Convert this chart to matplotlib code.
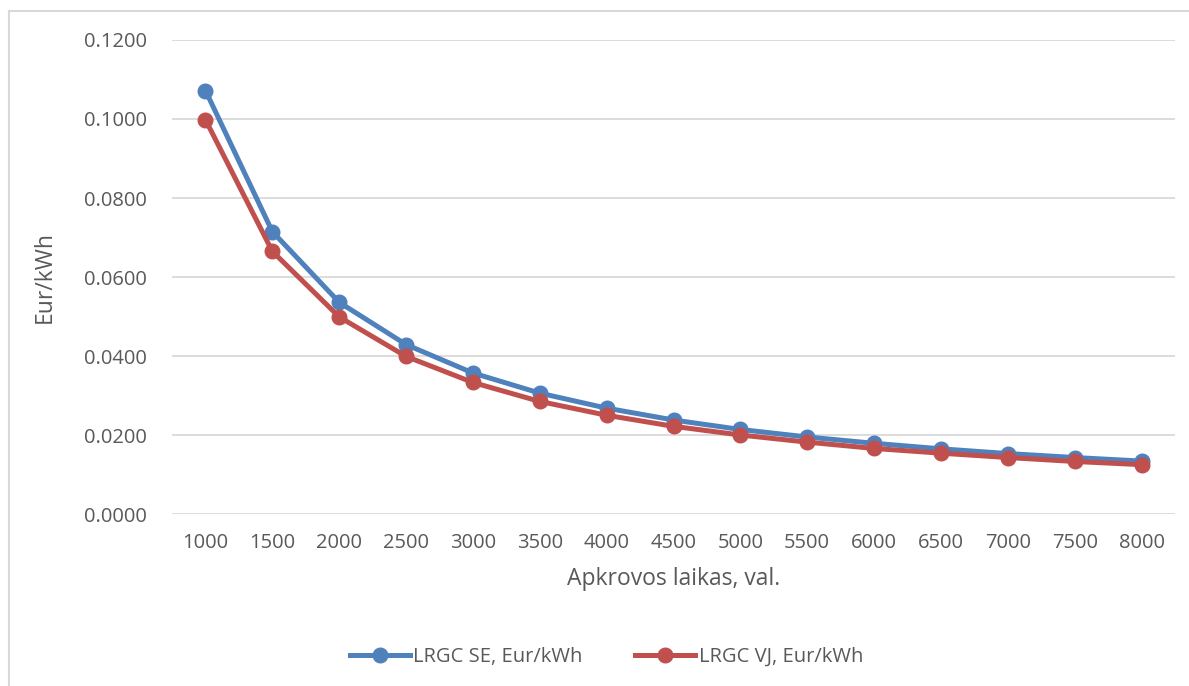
import matplotlib.pyplot as plt
from matplotlib.lines import Line2D

hours = ["1000", "1500", "2000", "2500", "3000", "3500", "4000", "4500",
         "5000", "5500", "6000", "6500", "7000", "7500", "8000"]
lrgc_se = [0.1072, 0.0715, 0.0536, 0.0429, 0.0357, 0.0306, 0.0268, 0.0238,
           0.0214, 0.0195, 0.0179, 0.0165, 0.0153, 0.0143, 0.0134]
lrgc_vj = [0.0998, 0.0665, 0.0499, 0.0399, 0.0333, 0.0285, 0.0250, 0.0222,
           0.0200, 0.0182, 0.0166, 0.0154, 0.0143, 0.0133, 0.0125]
y_ticks = [0.0, 0.02, 0.04, 0.06, 0.08, 0.10, 0.12]

plt.rcParams["font.family"] = ["Open Sans", "DejaVu Sans"]
text_color = "#595959"
grid_color = "#D9D9D9"

fig = plt.figure(figsize=(11.89, 6.86), dpi=100)
ax = fig.add_axes([0.1447, 0.2507, 0.8435, 0.6910])

x = list(range(len(hours)))
ax.plot(x, lrgc_se, color="#4F81BD", linewidth=3.6, marker="o", markersize=10.5,
        label="LRGC SE, Eur/kWh", solid_joinstyle="round", zorder=3)
ax.plot(x, lrgc_vj, color="#C0504D", linewidth=3.6, marker="o", markersize=10.5,
        label="LRGC VJ, Eur/kWh", solid_joinstyle="round", zorder=4)

ax.set_xlim(-0.5, len(hours) - 0.5)
ax.set_ylim(0, 0.12)
ax.set_xticks(x)
ax.set_xticklabels(hours)
ax.set_yticks(y_ticks)
ax.set_yticklabels([f"{v:.4f}" for v in y_ticks])
ax.tick_params(length=0, labelsize=14.5, labelcolor=text_color)
ax.tick_params(axis="x", pad=14)
ax.tick_params(axis="y", pad=18)

ax.grid(axis="y", color=grid_color, linewidth=1.3)
ax.set_axisbelow(True)
for s in ax.spines.values():
    s.set_visible(False)

ax.set_xlabel("Apkrovos laikas, val.", fontsize=16.5, color=text_color, labelpad=10)
ax.set_ylabel("Eur/kWh", fontsize=16.5, color=text_color, labelpad=20)

fig.legend(loc="center", bbox_to_anchor=(0.51, 0.042), ncol=2, frameon=False,
           fontsize=14.5, labelcolor=text_color, handlelength=3.0,
           handletextpad=0.15, columnspacing=2.6)

# light chart-area border along top and left
fig.add_artist(Line2D([0.0072, 0.0072], [0, 0.984], color=grid_color, linewidth=1.5))
fig.add_artist(Line2D([0.0072, 1.0], [0.984, 0.984], color=grid_color, linewidth=1.5))

fig.savefig("out.png", dpi=100)
